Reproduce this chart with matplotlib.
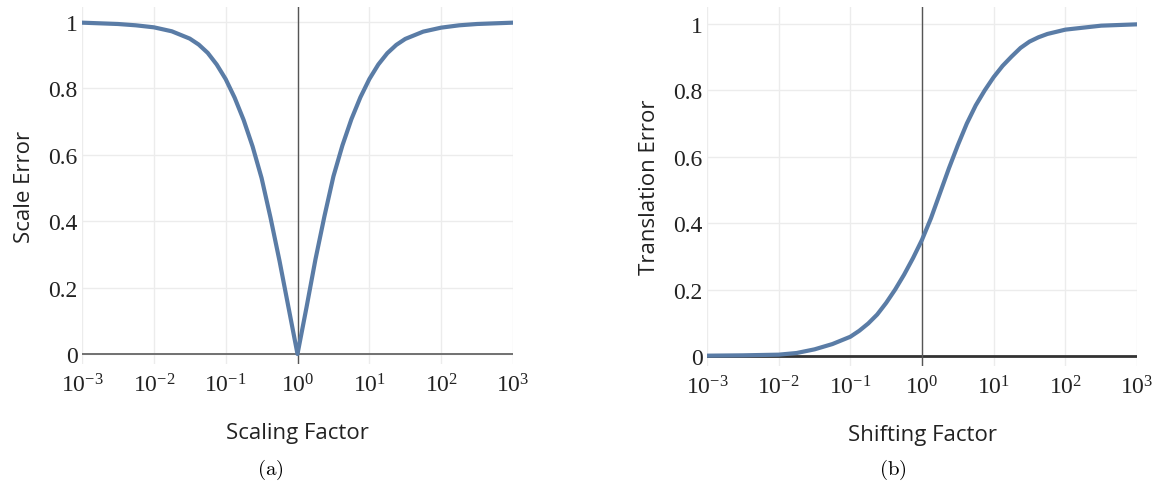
import numpy as np
import matplotlib.pyplot as plt

plt.rcParams['font.family'] = ['Liberation Serif', 'DejaVu Serif']
plt.rcParams['mathtext.fontset'] = 'custom'
plt.rcParams['mathtext.rm'] = 'Liberation Serif'
plt.rcParams['mathtext.it'] = 'Liberation Serif:italic'

## data (x given as log10 of the factor)
scale_log_factor = [-3, -2.5, -2.25, -2, -1.75, -1.5, -1.375, -1.25, -1.125, -1, -0.875, -0.75, -0.625,
                    -0.5, -0.375, -0.25, -0.125, 0,
                    0.125, 0.25, 0.375, 0.5, 0.625, 0.75, 0.875, 1, 1.125, 1.25, 1.375, 1.5,
                    1.75, 2, 2.25, 2.5, 3]
scale_error = [0.998, 0.994, 0.99, 0.984, 0.972, 0.95, 0.932, 0.907, 0.872, 0.828, 0.772, 0.705, 0.625,
               0.53, 0.41, 0.28, 0.14, 0.0,
               0.14, 0.285, 0.415, 0.535, 0.628, 0.707, 0.773, 0.828, 0.872, 0.906, 0.931, 0.949,
               0.971, 0.983, 0.99, 0.994, 0.998]

shift_log_factor = [-3, -2.5, -2, -1.75, -1.5, -1.25, -1, -0.875, -0.75, -0.625, -0.5, -0.375,
                    -0.25, -0.125, 0, 0.125, 0.25, 0.375, 0.5, 0.625, 0.75, 0.875, 1, 1.125,
                    1.25, 1.375, 1.5, 1.625, 1.75, 2, 2.5, 3]
translation_error = [0.001, 0.002, 0.004, 0.009, 0.02, 0.036, 0.058, 0.076, 0.098, 0.125, 0.16, 0.2,
                     0.245, 0.295, 0.35, 0.415, 0.49, 0.565, 0.635, 0.70, 0.755, 0.80, 0.84, 0.874,
                     0.902, 0.928, 0.947, 0.96, 0.97, 0.983, 0.995, 0.999]

x_ticks = [1e-3, 1e-2, 1e-1, 1e0, 1e1, 1e2, 1e3]
x_ticklabels = [r'$10^{-3}$', r'$10^{-2}$', r'$10^{-1}$', r'$10^{0}$', r'$10^{1}$', r'$10^{2}$', r'$10^{3}$']
y_ticks = [0, 0.2, 0.4, 0.6, 0.8, 1]
y_ticklabels = ['0', '0.2', '0.4', '0.6', '0.8', '1']

W, H = 1156, 485
line_color = '#5a7ca6'
grid_color = '#ececec'

fig = plt.figure(figsize=(W / 100, H / 100), dpi=100)


def make_panel(left, right, top, bottom, zero_px, one_px, xs, ys, xlabel, ylabel, zero_style, caption, cap_x):
    ax = fig.add_axes([left / W, 1 - bottom / H, (right - left) / W, (bottom - top) / H])
    per = zero_px - one_px
    ax.set_xscale('log')
    ax.set_xlim(1e-3, 1e3)
    ax.set_ylim(-(bottom - zero_px) / per, (zero_px - top) / per)
    for s in ax.spines.values():
        s.set_visible(False)
    ax.set_xticks(x_ticks)
    ax.set_xticklabels(x_ticklabels)
    ax.xaxis.set_minor_locator(plt.NullLocator())
    ax.set_yticks(y_ticks)
    ax.set_yticklabels(y_ticklabels)
    ax.tick_params(length=0, labelsize=17, colors='#222222')
    ax.tick_params(axis='y', pad=3)
    ax.tick_params(axis='x', pad=7)
    ax.grid(True, color=grid_color, lw=1)
    ax.set_axisbelow(True)
    ax.axhline(0, **zero_style, zorder=1)
    ax.axvline(1, color='#555555', lw=1, zorder=1)
    ax.plot(10.0 ** np.array(xs), ys, color=line_color, lw=3, solid_capstyle='round',
            solid_joinstyle='round', zorder=3)
    ax.set_xlabel(xlabel, fontfamily='Open Sans', fontsize=16, color='#222222', labelpad=18)
    ax.set_ylabel(ylabel, fontfamily='Open Sans', fontsize=16, color='#222222', labelpad=10)
    fig.text(cap_x / W, 1 - 470 / H, r'$\mathrm{' + caption + '}$', fontsize=15, ha='center',
             va='center', math_fontfamily='cm')
    return ax


make_panel(82, 513, 8, 365, 355, 23, scale_log_factor, scale_error,
           'Scaling Factor', 'Scale Error', dict(color='#666666', lw=1.3), '(a)', 270)
make_panel(707, 1137, 8, 367, 357, 25, shift_log_factor, translation_error,
           'Shifting Factor', 'Translation Error', dict(color='#333333', lw=2), '(b)', 893)

fig.savefig('out.png', dpi=100)
